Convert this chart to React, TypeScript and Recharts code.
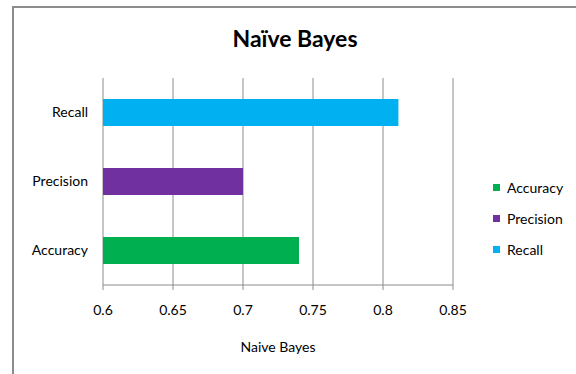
import React from "react";
import { BarChart, Bar, XAxis, YAxis, CartesianGrid, Cell } from "recharts";

const categories = ["Recall", "Precision", "Accuracy"];
const values = [0.811, 0.7, 0.74];
const colors = ["#00B0F0", "#7030A0", "#00B050"];
const xTicks = [0.6, 0.65, 0.7, 0.75, 0.8, 0.85];
const legendOrder = ["Accuracy", "Precision", "Recall"];
const chartTitle = "Naïve Bayes";
const axisTitle = "Naive Bayes";

const data = categories.map((c, i) => ({ name: c, value: values[i], color: colors[i] }));
const FONT = "Lato, 'Open Sans', sans-serif";

export default function App() {
  return (
    <div style={{ position: "absolute", left: 0, top: 0, width: 576, height: 374, background: "#fff", fontFamily: FONT, overflow: "hidden" }}>
      <div style={{ position: "absolute", left: 12, top: 6, width: 600, height: 400, borderLeft: "2px solid #8c8c8c", borderTop: "2px solid #8c8c8c" }} />
      <div style={{ position: "absolute", left: 0, top: 24, width: 590, textAlign: "center", fontSize: 23, fontWeight: 700, color: "#000" }}>{chartTitle}</div>
      <div style={{ position: "absolute", left: 0, top: 0 }}>
        <BarChart
          width={576}
          height={374}
          data={data}
          layout="vertical"
          margin={{ top: 78, right: 123, bottom: 49, left: 13 }}
        >
          <CartesianGrid vertical={true} horizontal={false} stroke="#8c8c8c" strokeWidth={1} />
          <XAxis
            type="number"
            domain={[0.6, 0.85]}
            ticks={xTicks}
            allowDataOverflow
            height={40}
            stroke="#8c8c8c"
            tickSize={5}
            tickMargin={15}
            tick={{ fill: "#000", fontSize: 14, fontFamily: FONT }}
            label={{ value: axisTitle, position: "bottom", offset: 17, fill: "#000", fontSize: 14, fontFamily: FONT }}
          />
          <YAxis
            yAxisId="b"
            type="number"
            domain={[0, 3]}
            ticks={[0, 1, 2, 3]}
            width={0}
            stroke="#8c8c8c"
            tickSize={5}
            tick={false}
          />
          <YAxis
            type="category"
            dataKey="name"
            width={90}
            axisLine={false}
            tickLine={false}
            tickMargin={9}
            tick={{ fill: "#000", fontSize: 14, fontFamily: FONT }}
          />
          <Bar dataKey="value" barSize={27} isAnimationActive={false}>
            {data.map((d) => (
              <Cell key={d.name} fill={d.color} />
            ))}
          </Bar>
        </BarChart>
      </div>
      <div style={{ position: "absolute", left: 493, top: 172, fontSize: 14, color: "#000" }}>
        {legendOrder.map((name) => (
          <div key={name} style={{ display: "flex", alignItems: "center", height: 31 }}>
            <span style={{ display: "inline-block", width: 7, height: 7, background: colors[categories.indexOf(name)], marginRight: 7 }} />
            <span>{name}</span>
          </div>
        ))}
      </div>
    </div>
  );
}
